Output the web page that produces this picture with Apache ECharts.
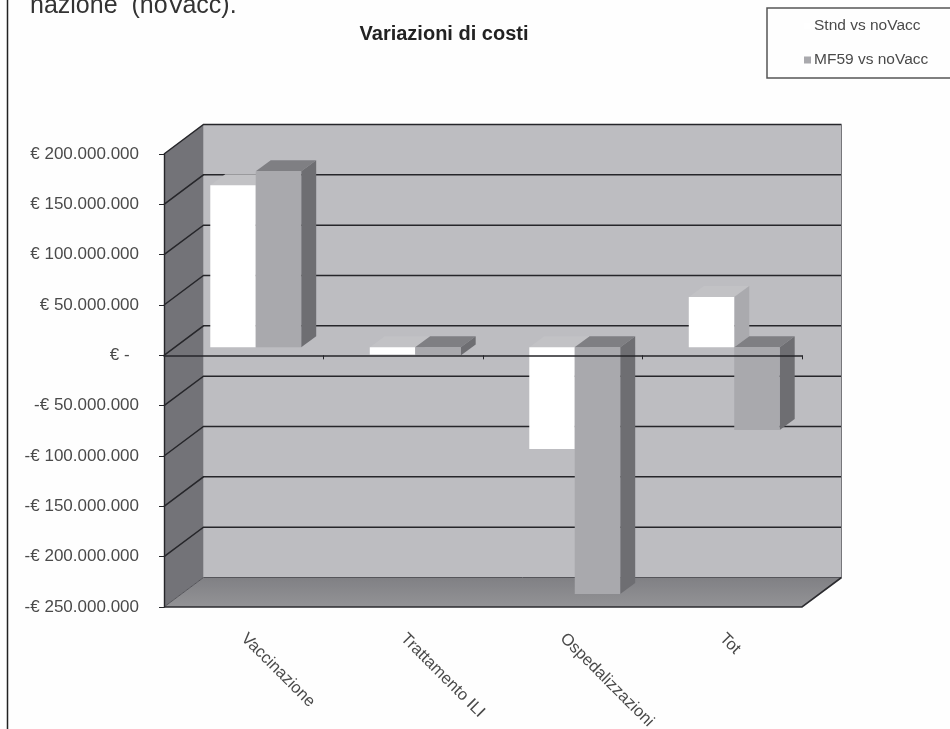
<!DOCTYPE html>
<html>
<head>
<meta charset="utf-8">
<title>Variazioni di costi</title>
<script src="https://cdn.jsdelivr.net/npm/echarts@6/dist/echarts.min.js"></script>
<style>
    html, body { margin: 0; padding: 0; background: #fefefe; }
    #chart { width: 950px; height: 729px; }
</style>
</head>
<body>
<div id="chart"></div>
<script>
    var categories = ['Vaccinazione', 'Trattamento ILI', 'Ospedalizzazioni', 'Tot'];
    var stndValues = [161000000, -7000000, -101000000, 50000000];
    var mf59Values = [175000000, -8000000, -245000000, -82000000];
    var yTicks = [200000000, 150000000, 100000000, 50000000, 0, -50000000, -100000000, -150000000, -200000000, -250000000];
    var yTickLabels = ['€ 200.000.000', '€ 150.000.000', '€ 100.000.000', '€ 50.000.000', '€ -  ',
        '-€ 50.000.000', '-€ 100.000.000', '-€ 150.000.000', '-€ 200.000.000', '-€ 250.000.000'];

    var FONT = '"Liberation Sans", Arial, sans-serif';
    var TEXT = '#4a4a4a';
    // finta prospettiva del grafico 3D di Excel
    var WALL_DX = 39.5, WALL_DY = -29.5;
    var BAR_DX = 12, BAR_DY = -8, BAR_DEPTH_X = 15, BAR_DEPTH_Y = -11;
    var BAR_BAND = 0.285;

    function poly(points, fill, stroke) {
        return {
            type: 'polygon',
            shape: { points: points },
            style: { fill: fill, stroke: stroke || null, lineWidth: stroke ? 1 : 0 }
        };
    }

    function renderWalls(params, api) {
        var c = params.coordSys;
        var l = c.x, r = c.x + c.width, t = c.y, b = c.y + c.height;
        var dx = WALL_DX, dy = WALL_DY;
        var children = [
            poly([[l + dx, t + dy], [r + dx, t + dy], [r + dx, b + dy], [l + dx, b + dy]], '#bdbdc1'),
            poly([[l, t], [l + dx, t + dy], [l + dx, b + dy], [l, b]], '#737378'),
            {
                type: 'polygon',
                shape: { points: [[l, b], [l + dx, b + dy], [r + dx, b + dy], [r, b]] },
                style: {
                    fill: new echarts.graphic.LinearGradient(0, 0, 0, 1, [
                        { offset: 0, color: '#808084' },
                        { offset: 1, color: '#939396' }
                    ])
                }
            }
        ];
        // righe della griglia su parete di fondo e parete sinistra
        yTicks.forEach(function (tick, i) {
            var y = api.coord([0, tick])[1];
            var last = i === yTicks.length - 1;
            children.push({
                type: 'polyline',
                shape: { points: [[l, y], [l + dx, y + dy], [r + dx, y + dy]] },
                style: { fill: null, stroke: last ? '#55555a' : '#26262a', lineWidth: last ? 1 : 1.5 }
            });
        });
        // bordi esterni
        children.push({
            type: 'line',
            shape: { x1: r + dx, y1: t + dy, x2: r + dx, y2: b + dy },
            style: { stroke: '#77777b', lineWidth: 1 }
        });
        children.push({
            type: 'polyline',
            shape: { points: [[l, b], [r, b], [r + dx, b + dy]] },
            style: { fill: null, stroke: '#2c2c30', lineWidth: 1.6 }
        });
        return { type: 'group', children: children };
    }

    function barRenderer(side, front, top, right) {
        return function (params, api) {
            var i = api.value(0);
            var zero = api.coord([i, 0]);
            var end = api.coord([i, api.value(1)]);
            var w = api.size([1, 0])[0] * BAR_BAND;
            var x0 = zero[0] + BAR_DX + (side === 0 ? -w : 0);
            var x1 = x0 + w;
            var yTop = Math.min(zero[1], end[1]) + BAR_DY;
            var yBot = Math.max(zero[1], end[1]) + BAR_DY;
            var ddx = BAR_DEPTH_X, ddy = BAR_DEPTH_Y;
            return {
                type: 'group',
                children: [
                    poly([[x0, yTop], [x0 + ddx, yTop + ddy], [x1 + ddx, yTop + ddy], [x1, yTop]], top),
                    poly([[x1, yTop], [x1 + ddx, yTop + ddy], [x1 + ddx, yBot + ddy], [x1, yBot]], right),
                    poly([[x0, yTop], [x1, yTop], [x1, yBot], [x0, yBot]], front)
                ]
            };
        };
    }

    function toBarData(values) {
        return values.map(function (v, i) { return [i, v]; });
    }

    var chart = echarts.init(document.getElementById('chart'), null, { renderer: 'canvas' });
    chart.setOption({
        animation: false,
        backgroundColor: '#fefefe',
        textStyle: { fontFamily: FONT },
        title: {
            text: 'Variazioni di costi',
            left: 439,
            top: 19,
            textAlign: 'center',
            textStyle: { fontFamily: FONT, fontSize: 20, fontWeight: 'bold', color: '#222' }
        },
        legend: {
            data: ['Stnd vs noVacc', 'MF59 vs noVacc'],
            orient: 'vertical',
            left: 767,
            top: 8,
            padding: [10, 60, 10, 37],
            itemGap: 18,
            itemWidth: 7,
            itemHeight: 7,
            icon: 'rect',
            selectedMode: false,
            borderColor: '#555',
            borderWidth: 1.5,
            textStyle: { fontFamily: FONT, fontSize: 15.5, color: TEXT, padding: [0, 0, 0, -2] }
        },
        graphic: [
            {
                type: 'line',
                shape: { x1: 7.5, y1: 0, x2: 7.5, y2: 729 },
                style: { stroke: '#222', lineWidth: 1.5 }
            },
            {
                type: 'text',
                x: 30,
                y: 0,
                style: { text: 'nazione  (noVacc).', fontFamily: FONT, fontSize: 25, fill: '#333', textVerticalAlign: 'bottom', y: 19 }
            }
        ],
        grid: { left: 164, top: 154, width: 638, height: 453, outerBoundsMode: 'none' },
        xAxis: [
            {
                // solo etichette, sotto il pavimento
                type: 'category',
                data: categories,
                position: 'bottom',
                axisLine: { show: false, onZero: false },
                axisTick: { show: false },
                axisLabel: {
                    interval: 0,
                    rotate: -45,
                    margin: 29,
                    hideOverlap: false,
                    fontFamily: FONT,
                    fontSize: 16.5,
                    color: TEXT
                }
            },
            {
                // linea dello zero, sopra le barre
                type: 'category',
                data: categories,
                position: 'bottom',
                z: 5,
                axisLine: { onZero: true, lineStyle: { color: '#26262a', width: 1.5 } },
                axisTick: { show: true, length: 4, lineStyle: { color: '#26262a' } },
                axisLabel: { show: false }
            }
        ],
        yAxis: {
            type: 'value',
            min: -250000000,
            max: 200000000,
            interval: 50000000,
            z: 5,
            splitLine: { show: false },
            axisLine: { show: true, lineStyle: { color: '#26262a', width: 1.4 } },
            axisTick: { show: true, length: 5, lineStyle: { color: '#26262a' } },
            axisLabel: {
                margin: 25,
                fontFamily: FONT,
                fontSize: 17,
                color: TEXT,
                formatter: function (v) { return yTickLabels[yTicks.indexOf(v)]; }
            }
        },
        series: [
            {
                name: 'pareti',
                type: 'custom',
                silent: true,
                data: [[0, 0]],
                renderItem: renderWalls
            },
            {
                name: 'Stnd vs noVacc',
                type: 'custom',
                itemStyle: { color: '#ffffff' },
                data: toBarData(stndValues),
                renderItem: barRenderer(0, '#ffffff', '#c2c2c5', '#aaaaae')
            },
            {
                name: 'MF59 vs noVacc',
                type: 'custom',
                itemStyle: { color: '#a9a9ad' },
                data: toBarData(mf59Values),
                renderItem: barRenderer(1, '#a9a9ad', '#7f7f83', '#6e6e72')
            }
        ]
    });
</script>
</body>
</html>
